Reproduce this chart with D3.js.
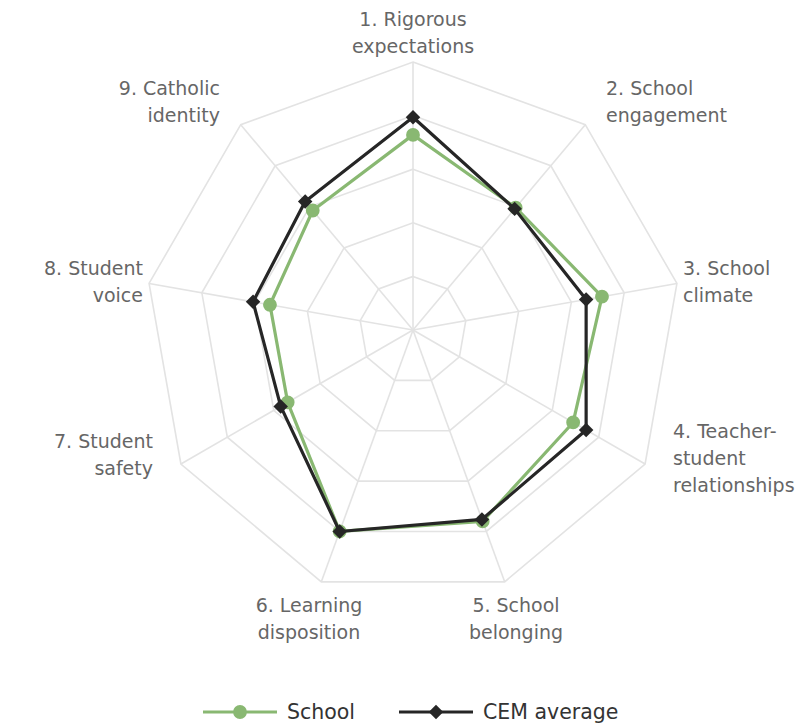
<!DOCTYPE html>
<html>
<head>
<meta charset="utf-8">
<script src="https://cdn.jsdelivr.net/npm/d3@7"></script>
<style>
  body { margin: 0; background: #fff; }
  text { font-family: "DejaVu Sans", sans-serif; }
</style>
</head>
<body>
<div class="canvas"></div>
<script>
// data
const categories = [
  ['1. Rigorous', 'expectations'],
  ['2. School', 'engagement'],
  ['3. School', 'climate'],
  ['4. Teacher-', 'student', 'relationships'],
  ['5. School', 'belonging'],
  ['6. Learning', 'disposition'],
  ['7. Student', 'safety'],
  ['8. Student', 'voice'],
  ['9. Catholic', 'identity']
];
const schoolValues = [3.64, 2.98, 3.58, 3.45, 3.80, 4.00, 2.70, 2.71, 2.91];
const cemValues    = [3.97, 2.95, 3.28, 3.73, 3.76, 4.00, 2.85, 3.03, 3.13];
const ringLevels = [1, 2, 3, 4, 5];
const seriesNames = ['School', 'CEM average'];

const width = 807, height = 724;
const cx = 413, cy = 330, radius = 268;

const svg = d3.select('.canvas')
  .append('svg')
  .attr('width', width)
  .attr('height', height);

const r = d3.scaleLinear().domain([0, 5]).range([0, radius]);
const angle = d3.scaleLinear().domain([0, categories.length]).range([0, 2 * Math.PI]);

const graph = svg.append('g')
  .attr('transform', 'translate(' + cx + ',' + cy + ')');

// grid rings
const ring = d3.lineRadial()
  .angle((d, i) => angle(i))
  .radius(d => r(d))
  .curve(d3.curveLinearClosed);

graph.selectAll('.ring')
  .data(ringLevels)
  .enter().append('path')
  .attr('d', lv => ring(categories.map(() => lv)))
  .attr('fill', 'none')
  .attr('stroke', '#e3e3e3')
  .attr('stroke-width', 1.6);

// spokes
graph.selectAll('.spoke')
  .data(categories)
  .enter().append('line')
  .attr('x1', 0).attr('y1', 0)
  .attr('x2', (d, i) => r(5) * Math.sin(angle(i)))
  .attr('y2', (d, i) => -r(5) * Math.cos(angle(i)))
  .attr('stroke', '#e3e3e3')
  .attr('stroke-width', 1.6);

// axis labels
const labelPos = [
  {dx: 0, dy: -304, anchor: 'middle'},
  {dx: 193, dy: -235, anchor: 'start'},
  {dx: 270, dy: -55, anchor: 'start'},
  {dx: 260, dy: 108, anchor: 'start'},
  {dx: 103, dy: 282, anchor: 'middle'},
  {dx: -104, dy: 282, anchor: 'middle'},
  {dx: -260, dy: 118, anchor: 'end'},
  {dx: -270, dy: -55, anchor: 'end'},
  {dx: -193, dy: -235, anchor: 'end'}
];

categories.forEach((lines, i) => {
  const p = labelPos[i];
  const t = graph.append('text')
    .attr('x', p.dx)
    .attr('y', p.dy)
    .attr('text-anchor', p.anchor)
    .attr('fill', '#666')
    .attr('font-size', 19);
  lines.forEach((ln, j) => {
    t.append('tspan').attr('x', p.dx).attr('dy', j === 0 ? 0 : 27).text(ln);
  });
});

const point = (v, i) => [r(v) * Math.sin(angle(i)), -r(v) * Math.cos(angle(i))];

const series = [
  {name: seriesNames[0], values: schoolValues, color: '#89b872', symbol: d3.symbolCircle, size: 150, rot: 0},
  {name: seriesNames[1], values: cemValues, color: '#262626', symbol: d3.symbolSquare, size: 105, rot: 45}
];

series.forEach(s => {
  graph.append('path')
    .attr('d', ring(s.values))
    .attr('fill', 'none')
    .attr('stroke', s.color)
    .attr('stroke-width', 3.2)
    .attr('stroke-linejoin', 'round');
  graph.selectAll(null)
    .data(s.values)
    .enter().append('path')
    .attr('d', d3.symbol().type(s.symbol).size(s.size))
    .attr('transform', (d, i) => 'translate(' + point(d, i) + ') rotate(' + s.rot + ')')
    .attr('fill', s.color);
});

// legend
const legend = svg.append('g').attr('transform', 'translate(0,712)');
const legendX = [203, 399];
series.forEach((s, i) => {
  const g = legend.append('g').attr('transform', 'translate(' + legendX[i] + ',0)');
  g.append('line')
    .attr('x1', 0).attr('x2', 74)
    .attr('stroke', s.color)
    .attr('stroke-width', 3.2);
  g.append('path')
    .attr('d', d3.symbol().type(s.symbol).size(s.size))
    .attr('transform', 'translate(37,0) rotate(' + s.rot + ')')
    .attr('fill', s.color);
  g.append('text')
    .attr('x', 84)
    .attr('y', 7)
    .attr('fill', '#333')
    .attr('font-size', 20.5)
    .text(s.name);
});
</script>
</body>
</html>
